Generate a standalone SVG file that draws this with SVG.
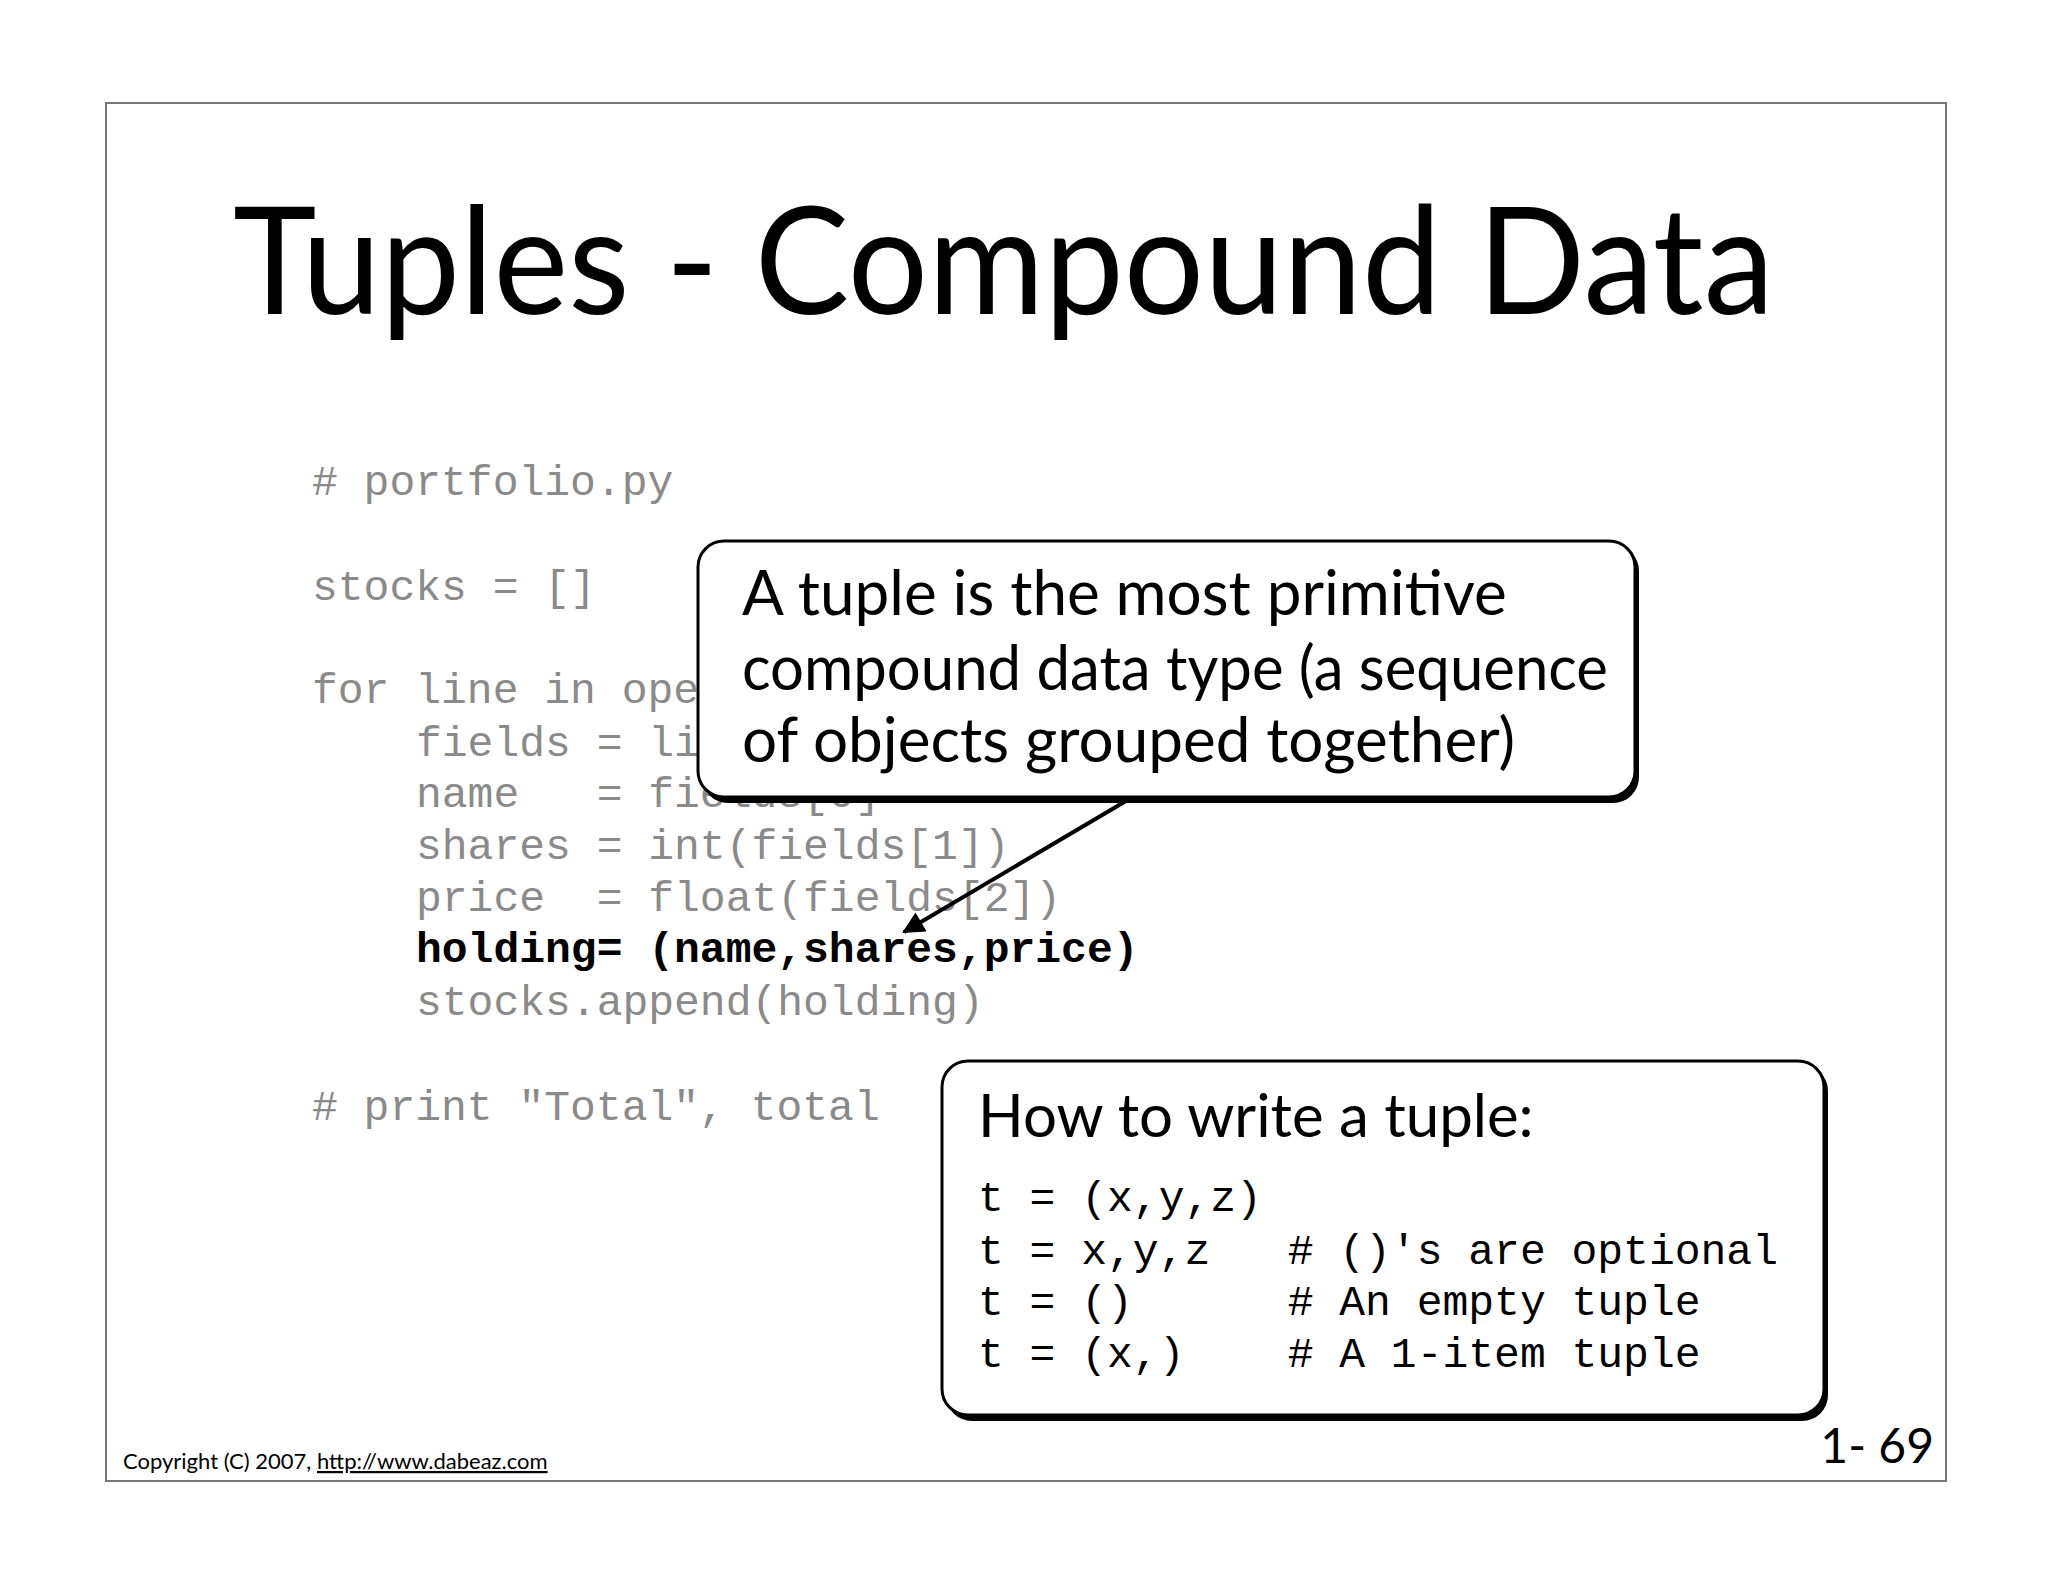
<svg xmlns="http://www.w3.org/2000/svg" width="2048" height="1582" viewBox="0 0 2048 1582">
<style>
text{white-space:pre}
.code{font-family:"Liberation Mono",monospace;font-size:43px;fill:#8a8a8a}
.bk{fill:#000}
.sans{font-family:"Gill Sans","Lato","Liberation Sans",sans-serif;fill:#000}
.box{fill:#fff;stroke:#000;stroke-width:3}
</style>
<defs>
<marker id="ah" viewBox="0 0 10 10" refX="9" refY="5" markerWidth="26" markerHeight="22" orient="auto-start-reverse" markerUnits="userSpaceOnUse"><path d="M0,0 L10,5 L0,10 z" fill="#000"/></marker>
</defs>
<rect x="0" y="0" width="2048" height="1582" fill="#fff"/>
<rect x="106" y="103" width="1840" height="1378" fill="#fff" stroke="#777" stroke-width="2"/>
<text class="sans" x="233" y="314" font-size="150" textLength="1541" lengthAdjust="spacingAndGlyphs">Tuples - Compound Data</text>
<g id="code">
<text class="code" x="312" y="495" xml:space="preserve"># portfolio.py</text>
<text class="code" x="312" y="600" xml:space="preserve">stocks = []</text>
<text class="code" x="312" y="703" xml:space="preserve">for line in open("portfolio.dat"):</text>
<text class="code" x="416" y="756" xml:space="preserve">fields = line.split()</text>
<text class="code" x="416" y="807" xml:space="preserve">name   = fields[0]</text>
<text class="code" x="416" y="859" xml:space="preserve">shares = int(fields[1])</text>
<text class="code" x="416" y="911" xml:space="preserve">price  = float(fields[2])</text>
<text class="code bk" x="416" y="962" font-weight="bold" xml:space="preserve">holding= (name,shares,price)</text>
<text class="code" x="416" y="1015" xml:space="preserve">stocks.append(holding)</text>
<text class="code" x="312" y="1120" xml:space="preserve"># print "Total", total</text>
</g>
<g id="callout1">
<rect x="702" y="545" width="937" height="258" rx="26" fill="#000"/>
<rect class="box" x="698" y="541" width="937" height="256" rx="26"/>
<text class="sans" x="742" y="615" font-size="62">A tuple is the most primitive</text>
<text class="sans" x="742" y="690" font-size="62" textLength="866" lengthAdjust="spacingAndGlyphs">compound data type (a sequence</text>
<text class="sans" x="742" y="762" font-size="62">of objects grouped together)</text>
</g>
<g id="connectors">
<line x1="1126" y1="801" x2="904" y2="932" stroke="#000" stroke-width="4" marker-end="url(#ah)"/>
</g>
<g id="callout2">
<rect x="946" y="1065" width="882" height="356" rx="26" fill="#000"/>
<rect class="box" x="942" y="1061" width="882" height="354" rx="26"/>
<text class="sans" x="978" y="1137" font-size="60">How to write a tuple:</text>
<text class="code bk" x="978" y="1211" xml:space="preserve">t = (x,y,z)</text>
<text class="code bk" x="978" y="1264" xml:space="preserve">t = x,y,z   # ()'s are optional</text>
<text class="code bk" x="978" y="1315" xml:space="preserve">t = ()      # An empty tuple</text>
<text class="code bk" x="978" y="1367" xml:space="preserve">t = (x,)    # A 1-item tuple</text>
</g>
<text class="sans" x="123" y="1469" font-size="22">Copyright (C) 2007, <tspan text-decoration="underline">http://www.dabeaz.com</tspan></text>
<text class="sans" x="1934" y="1463" font-size="48" text-anchor="end">1- 69</text>
</svg>
